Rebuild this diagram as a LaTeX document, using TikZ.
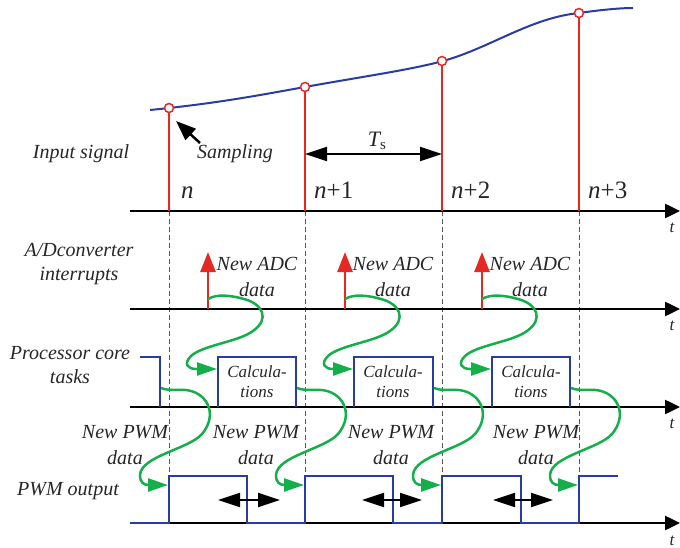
\documentclass[tikz,border=0pt]{standalone}
\usepackage{fontspec}
\setmainfont{Liberation Serif}
\usetikzlibrary{arrows.meta}
\definecolor{cblue}{RGB}{40,60,165}
\definecolor{cred}{RGB}{228,40,35}
\definecolor{cgreen}{RGB}{20,175,75}
\definecolor{cgray}{RGB}{90,90,90}
\begin{document}
\begin{tikzpicture}[x=1pt,y=-1pt,
  axisline/.style={line width=2.5pt,-{Triangle[length=15pt,width=14pt]}},
  sig/.style={cblue,line width=2pt},
  redline/.style={cred,line width=2.5pt},
  redarr/.style={cred,line width=2.5pt,-{Triangle[length=20pt,width=15pt]}},
  gridline/.style={cgray,line width=0.9pt,dash pattern=on 5pt off 3pt},
  garrow/.style={cgreen,line width=2.5pt,-{Triangle[length=20pt,width=13pt]}},
  darrow/.style={line width=2pt,{Triangle[length=22pt,width=14pt]}-{Triangle[length=22pt,width=14pt]}},
  blkarrow/.style={line width=2.5pt,-{Triangle[length=20pt,width=15pt]}},
  smp/.style={circle,draw=cred,fill=white,line width=1.5pt,minimum size=9pt,inner sep=0pt},
  lbl/.style={font=\fontsize{20}{24}\selectfont\itshape,align=center,inner sep=0pt,text=black!85},
  lbltwo/.style={font=\fontsize{20}{26}\selectfont\itshape,align=center,inner sep=0pt,text=black!85},
  calcl/.style={font=\fontsize{17}{20}\selectfont\itshape,align=center,inner sep=0pt,text=black!85},
  nlbl/.style={font=\fontsize{25}{25}\selectfont,inner sep=0pt,anchor=base west,text=black!85},
  tlbl/.style={font=\fontsize{17}{17}\selectfont\itshape,inner sep=0pt,text=black!85}]
\useasboundingbox (0,0) rectangle (680,548);

% axes
\coordinate (ax1) at (130,211); \coordinate (axe1) at (680,211);
\coordinate (ax2) at (130,309); \coordinate (axe2) at (680,309);
\coordinate (ax3) at (130,407); \coordinate (axe3) at (680,407);
\coordinate (ax4) at (130,523); \coordinate (axe4) at (680,523);

% input signal curve
\draw[sig] (150,110) .. controls (220,103) and (260,95) .. (305,87)
  .. controls (360,77) and (410,70) .. (443,61)
  .. controls (490,48) and (530,18) .. (579,13)
  .. controls (600,10) and (620,8) .. (633,8);

% sample circles
\node[smp] (s0) at (169,108) {};
\node[smp] (s1) at (305,87) {};
\node[smp] (s2) at (442,61) {};
\node[smp] (s3) at (579,13) {};

% dashed guides
\foreach \s in {s0,s1,s2,s3}{
  \draw[gridline] (\s |- ax1) -- (\s |- ax4);
}

% axes drawn
\draw[axisline] (ax1) -- (axe1);
\draw[axisline] (ax2) -- (axe2);
\draw[axisline] (ax3) -- (axe3);
\draw[axisline] (ax4) -- (axe4);

% red sample lines
\foreach \s in {s0,s1,s2,s3}{
  \draw[redline] (\s.south) -- (\s.south |- ax1);
}

% t labels
\node[tlbl] (t1) at (672,228) {t};
\node[tlbl] (t2) at (672,326) {t};
\node[tlbl] (t3) at (672,424) {t};
\node[tlbl] (t4) at (672,541) {t};

% n labels
\node[nlbl] (n0) at (181,199) {\itshape n};
\node[nlbl] (n1) at (314,199) {{\itshape n}+1};
\node[nlbl] (n2) at (451,199) {{\itshape n}+2};
\node[nlbl] (n3) at (588,199) {{\itshape n}+3};

% left labels
\node[lbl] (lin) at (81,154) {Input signal};
\node[lbl] (lad) at (79,264) {A/Dconverter\\interrupts};
\node[lbl] (lpc) at (70,365) {Processor core\\tasks};
\node[lbl] (lpw) at (68,491) {PWM output};

% sampling
\node[lbl] (samp) at (235,154) {Sampling};
\coordinate (sampt) at (176,121);
\coordinate (sampf) at (200,143);
\draw[blkarrow] (sampf) -- (sampt);

% Ts
\coordinate (tsy) at (0,154);
\draw[darrow] (s1.south |- tsy) -- (s2.south |- tsy);
\node[inner sep=0pt,text=black!85] (ts) at (377,141) {\fontsize{22}{22}\selectfont\itshape T\raisebox{-0.35ex}{\upshape\fontsize{15}{15}\selectfont s}};

% ADC interrupts
\coordinate (r1) at (208,309); \coordinate (r1t) at (208,252);
\coordinate (r2) at (345,309); \coordinate (r2t) at (345,252);
\coordinate (r3) at (482,309); \coordinate (r3t) at (482,252);
\draw[redarr] (r1) -- (r1t);
\draw[redarr] (r2) -- (r2t);
\draw[redarr] (r3) -- (r3t);
\node[lbltwo] (adc1) at (257,277) {New ADC\\data};
\node[lbltwo] (adc2) at (393,277) {New ADC\\data};
\node[lbltwo] (adc3) at (530,277) {New ADC\\data};

% processor tasks
\draw[sig] (140,357) -- (160,357) -- (160,407);
\draw[sig] (218,407) |- (296,357) -- (296,407);
\draw[sig] (354,407) |- (433,357) -- (433,407);
\draw[sig] (492,407) |- (570,357) -- (570,407);
\node[calcl] (c1) at (257,382) {Calcula-\\tions};
\node[calcl] (c2) at (393,382) {Calcula-\\tions};
\node[calcl] (c3) at (531,382) {Calcula-\\tions};

% PWM output
\draw[sig,line width=2.2pt] (130,523) -- (169,523) -- (169,476) -- (247,476) -- (247,523) -- (305,523) -- (305,476) -- (393,476) -- (393,523) -- (442,523) -- (442,476) -- (521,476) -- (521,523) -- (579,523) -- (579,476) -- (618,476);

% double arrows
\coordinate (d1a) at (218,500); \coordinate (d1b) at (280,500);
\coordinate (d2a) at (362,500); \coordinate (d2b) at (422,500);
\coordinate (d3a) at (493,500); \coordinate (d3b) at (553,500);
\draw[darrow] (d1a) -- (d1b);
\draw[darrow] (d2a) -- (d2b);
\draw[darrow] (d3a) -- (d3b);

% New PWM labels
\node[lbltwo] (p1) at (125,445) {New PWM\\data};
\node[lbltwo] (p2) at (256,445) {New PWM\\data};
\node[lbltwo] (p3) at (391,445) {New PWM\\data};
\node[lbltwo] (p4) at (536,445) {New PWM\\data};

% green arrows ADC -> calc
\coordinate (ga1) at (208,299); \coordinate (gt1) at (217,369);
\coordinate (ga2) at (345,299); \coordinate (gt2) at (353,369);
\coordinate (ga3) at (482,299); \coordinate (gt3) at (491,369);
\foreach \i in {1,2,3}{
  \begin{scope}[shift={(ga\i)}]
    \draw[garrow] (ga\i) .. controls (8,-5) and (22,-4) .. (36,0)
      .. controls (55,5) and (62,20) .. (45,32)
      .. controls (30,43) and (-5,46) .. (-17,57)
      .. controls (-25,65) and (-20,70) .. (-12,70) -- (gt\i);
  \end{scope}
}

% green arrows processor -> PWM
\coordinate (gb1) at (161,388); \coordinate (gu1) at (168,485);
\coordinate (gb2) at (297,388); \coordinate (gu2) at (304,485);
\coordinate (gb3) at (434,388); \coordinate (gu3) at (441,485);
\coordinate (gb4) at (571,388); \coordinate (gu4) at (578,485);
\foreach \i in {1,2,3,4}{
  \begin{scope}[shift={(gb\i)}]
    \draw[garrow] (gb\i) .. controls (10,4) and (20,0) .. (30,3)
      .. controls (48,8) and (56,28) .. (41,46)
      .. controls (28,61) and (-20,68) .. (-21,87)
      .. controls (-21,95) and (-17,97) .. (-12,97) -- (gu\i);
  \end{scope}
}
\end{tikzpicture}
\end{document}
